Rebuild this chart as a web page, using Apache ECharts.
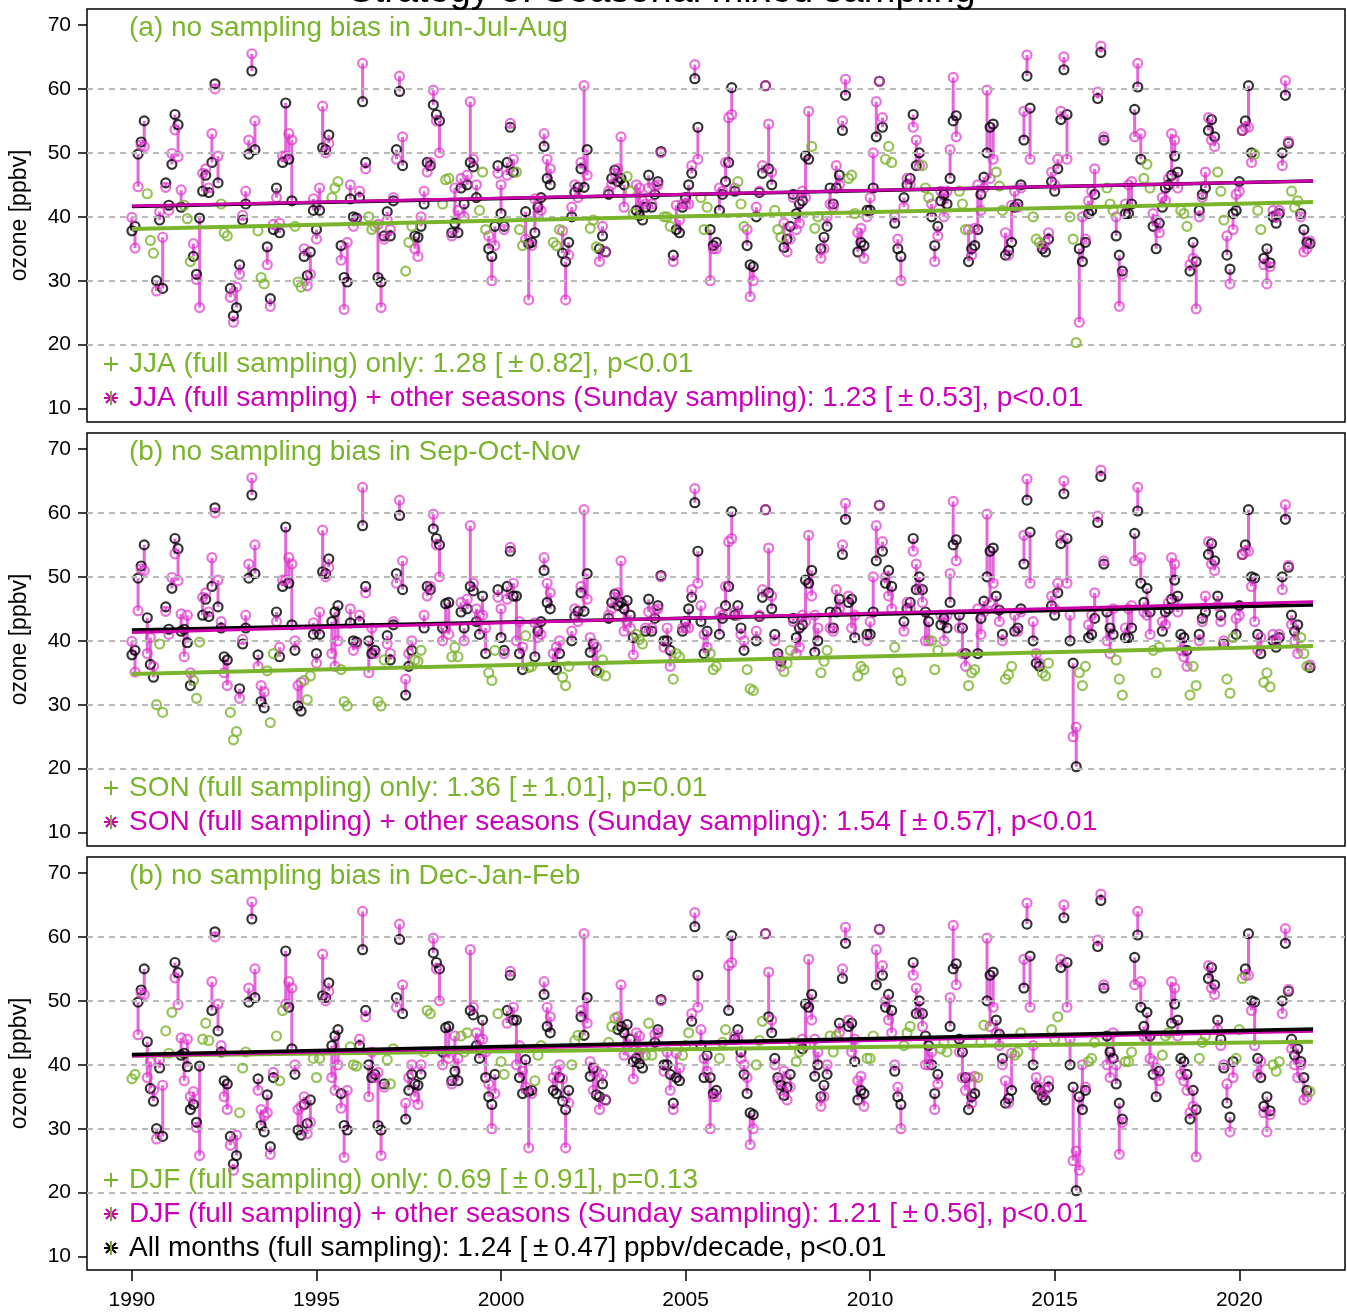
<!DOCTYPE html>
<html><head><meta charset="utf-8">
<script src="https://cdn.jsdelivr.net/npm/echarts@6/dist/echarts.min.js"></script>
<style>html,body{margin:0;padding:0;background:#fff}#c{width:1347px;height:1312px}</style>
</head><body><div id="c"></div>
<script>
// ---------- DATA (monthly means, ppbv) ----------
const startYear = 1990;
// full sampling (all days), Jan..Dec per year
const fullRows = [
 [37.8,38.5,49.8,51.7,55.0,43.6,36.3,34.3,30.0,39.5,28.8,45.3],
 [41.8,48.2,56.0,54.4,41.5,41.8,39.7,33.0,33.8,31.0,39.8,44.0],
 [46.5,43.8,48.5,60.8,45.3,42.0,37.5,37.0,28.8,24.5,25.8,32.5],
 [39.5,42.0,49.8,62.8,50.5,37.8,30.5,29.5,35.3,27.2,38.0,44.5],
 [37.5,48.5,57.8,49.0,42.5,38.5,29.8,29.0,33.8,30.8,34.5,41.0],
 [38.0,41.0,50.8,50.5,52.8,43.0,44.5,45.5,35.5,30.5,29.8,42.8],
 [40.0,39.8,43.0,58.0,48.5,40.0,38.0,38.5,30.5,29.8,37.0,40.8],
 [37.0,42.5,50.5,59.6,48.0,31.5,36.0,38.5,37.0,36.8,38.5,42.0],
 [48.5,48.0,57.5,56.0,55.0,42.0,45.8,46.0,37.5,39.0,37.5,44.5],
 [42.0,45.0,48.5,47.8,43.0,41.0,47.0,38.0,35.0,33.8,38.5,48.0],
 [40.5,38.5,48.5,54.0,47.0,47.0,38.0,35.5,40.8,35.8,36.0,37.5],
 [41.5,43.0,51.0,46.0,45.0,36.0,35.5,38.0,34.3,33.0,36.0,40.0],
 [43.8,44.6,47.5,44.6,50.5,38.2,39.5,35.3,35.0,37.0,34.5,43.5],
 [46.0,47.3,45.5,46.0,45.0,46.3,44.0,40.5,41.0,40.2,39.5,41.5],
 [46.5,41.5,43.5,45.5,50.2,40.0,40.0,38.5,34.0,38.0,37.5,41.5],
 [43.0,45.0,46.8,61.6,54.0,43.0,38.0,41.5,38.0,35.5,36.0,41.0],
 [43.5,45.5,48.5,60.2,44.0,45.5,42.0,38.5,35.5,32.5,32.2,40.0],
 [43.8,46.8,60.5,47.5,45.0,41.0,38.0,36.8,35.2,36.5,38.5,43.5],
 [40.5,42.0,42.5,49.5,49.0,51.0,38.2,40.0,35.0,36.8,38.5,44.5],
 [42.0,44.5,46.5,53.5,59.0,46.0,46.5,40.5,34.5,36.0,35.5,41.0],
 [41.0,44.5,52.5,61.2,54.0,49.0,51.0,48.5,39.0,35.0,33.8,43.0],
 [45.0,46.0,56.0,48.0,50.0,48.0,44.5,43.0,40.0,35.5,38.5,42.5],
 [43.5,42.0,46.0,55.0,55.8,44.0,42.0,38.0,33.0,35.0,35.5,38.0],
 [43.5,46.2,50.0,54.0,54.5,47.0,44.8,41.0,34.0,34.7,36.0,41.5],
 [42.0,45.0,52.0,62.0,57.0,40.0,36.5,36.0,35.0,34.5,36.5,45.5],
 [44.0,47.5,55.2,63.0,56.0,40.0,36.5,20.3,35.0,33.0,36.0,40.5],
 [41.0,43.5,58.5,65.7,52.0,44.5,42.0,41.0,37.0,34.0,31.5,40.5],
 [40.5,42.0,56.8,60.3,49.0,46.0,48.2,44.5,38.5,35.0,39.0,41.5],
 [44.5,45.0,46.5,49.5,47.0,41.0,40.5,38.5,31.5,36.0,33.0,41.0],
 [43.5,44.5,53.5,55.2,52.5,47.0,44.0,39.5,34.0,31.8,40.5,41.0],
 [45.5,53.5,55.0,60.5,50.0,49.8,41.0,38.0,33.5,35.0,32.8,40.0],
 [39.0,40.5,50.0,59.0,51.5,44.0,41.5,42.5,40.5,38.0,36.0,35.8]
];
// Sunday-only sampling, Jan..Dec per year
const sundayRows = [
 [39.9,35.1,44.7,51.2,51.0,38.0,40.5,36.0,28.4,40.8,36.8,44.6],
 [41.0,49.9,53.6,49.4,44.2,37.5,44.0,35.0,35.8,30.2,25.8,46.8],
 [47.5,44.5,53.0,60.0,49.5,43.0,35.0,33.0,27.4,23.5,29.0,31.0],
 [40.2,44.0,52.0,65.5,55.0,36.0,33.0,32.0,32.5,26.0,38.8,43.0],
 [39.0,49.5,49.5,53.0,52.0,40.0,33.0,33.5,35.0,29.2,31.0,42.8],
 [36.5,44.5,57.3,50.0,51.5,38.0,36.0,40.0,33.2,25.5,36.0,45.0],
 [38.5,39.5,44.0,64.0,47.5,35.0,42.0,38.0,38.8,25.8,36.5,39.5],
 [38.0,43.0,49.0,62.0,52.5,34.0,38.0,40.0,35.0,33.8,40.0,44.0],
 [47.0,48.5,59.8,55.0,50.0,40.0,42.0,41.0,37.0,44.5,41.0,46.0],
 [40.0,46.5,58.0,49.0,45.0,44.0,44.0,42.0,37.0,30.0,35.5,46.8],
 [45.0,38.0,46.5,54.6,49.0,40.0,43.0,39.0,36.5,27.0,35.5,42.8],
 [40.5,41.0,53.0,49.0,47.5,38.0,39.0,40.0,37.8,27.0,34.0,41.5],
 [45.0,43.0,48.5,60.5,46.5,40.5,36.0,39.0,33.0,38.5,34.5,44.0],
 [45.0,46.8,47.5,52.5,41.5,43.0,42.0,37.8,45.0,44.5,42.5,42.0],
 [44.5,42.0,44.8,45.0,50.0,39.0,42.0,36.0,33.0,41.8,39.5,42.0],
 [42.0,42.0,48.0,63.8,49.0,45.5,41.0,39.0,30.0,35.0,35.0,44.5],
 [44.0,48.5,55.5,56.0,44.5,44.0,41.0,40.0,38.0,27.5,30.0,41.5],
 [44.0,48.0,60.5,54.5,47.0,40.0,37.5,36.0,39.0,34.5,36.5,43.0],
 [38.0,39.0,44.0,43.0,56.5,47.0,44.0,42.0,33.5,35.0,40.0,42.0],
 [41.5,48.0,45.0,55.0,61.5,47.0,42.0,44.0,37.5,38.2,33.5,40.0],
 [43.0,50.0,58.0,61.2,55.5,50.0,47.0,45.0,40.0,36.5,30.0,41.5],
 [46.0,45.0,54.0,52.0,48.0,46.0,40.0,40.0,42.0,33.0,37.0,44.0],
 [40.0,44.0,50.5,61.8,52.5,42.0,38.0,36.0,38.0,34.0,38.2,45.0],
 [41.0,44.5,59.8,46.0,49.0,45.0,43.0,40.0,37.5,34.0,41.8,44.0],
 [41.5,44.5,56.5,65.3,49.0,43.0,38.0,36.5,35.5,36.0,37.5,47.0],
 [45.0,49.0,56.5,65.0,49.0,44.0,25.0,26.5,23.5,40.0,36.5,42.5],
 [44.0,47.5,59.5,66.7,52.5,40.0,38.0,45.0,40.0,26.0,31.0,42.0],
 [45.0,45.5,52.5,64.0,53.0,44.5,44.0,41.0,40.5,39.5,37.5,43.0],
 [42.5,46.0,53.0,52.0,44.5,38.5,37.5,36.0,32.5,33.5,25.6,40.0],
 [43.0,47.0,55.5,52.0,51.0,45.5,43.0,40.0,37.0,29.5,38.0,43.5],
 [44.0,53.5,54.0,54.0,48.5,43.0,38.5,40.5,32.5,29.5,32.2,41.0],
 [40.0,41.0,48.0,61.3,51.8,42.5,40.0,38.0,40.0,34.5,35.0,36.2]
];
// months (0=Jan) with full sampling in each panel
const seasonMonths = [[5,6,7],[8,9,10],[11,0,1]];
const panelTitles = ["(a) no sampling bias in Jun-Jul-Aug","(b) no sampling bias in Sep-Oct-Nov","(b) no sampling bias in Dec-Jan-Feb"];
const seasonLabel = ["JJA","SON","DJF"];
const seasonOnlyStats = ["1.28 [\u2009\u00b1\u20090.82], p<0.01","1.36 [\u2009\u00b1\u20091.01], p=0.01","0.69 [\u2009\u00b1\u20090.91], p=0.13"];
const mixedStats = ["1.23 [\u2009\u00b1\u20090.53], p<0.01","1.54 [\u2009\u00b1\u20090.57], p<0.01","1.21 [\u2009\u00b1\u20090.56], p<0.01"];
const allStats = "1.24 [\u2009\u00b1\u20090.47] ppbv/decade, p<0.01";
// trend lines (start 1990, end 2022)
const trendX = [1990, 2022];
const trendAll = [[41.6,45.6],[41.7,45.6],[41.6,45.6]];
const trendMixed = [[41.7,45.6],[41.3,46.1],[41.4,45.3]];
const trendSeason = [[38.1,42.3],[34.8,39.2],[41.4,43.6]];
const yTicks = [10,20,30,40,50,60,70];
const gridVals = [20,30,40,50,60];
const xTicks = [1990,1995,2000,2005,2010,2015,2020];

// ---------- STYLE ----------
const FONT = "Liberation Sans, Arial, sans-serif";
const GREEN = "#7ab42c", MAG_TXT = "#cc00b8", MAG_PT = "rgba(220,50,202,0.85)", MAG_SEG = "rgba(222,62,210,0.8)", MAG_TREND = "#cc00aa";
const X_MIN = 1988.783, X_MAX = 2022.865, Y_MIN = 7.9, Y_MAX = 72.5;
const gridTops = [9, 433, 857];
const GRID_H = 413;

const full = fullRows.flat();
const sunday = sundayRows.flat();

const grids = [], xAxes = [], yAxes = [], series = [], graphics = [];
for (let p = 0; p < 3; p++) {
  grids.push({left: 85, top: gridTops[p], width: 1260, height: GRID_H, show: true, borderColor: '#000', borderWidth: 1.5, backgroundColor: 'transparent'});
  const bottom = p === 2;
  xAxes.push({type: 'value', gridIndex: p, min: X_MIN, max: X_MAX, axisLine: {show: false}, splitLine: {show: false},
    axisTick: {show: bottom, customValues: xTicks, length: 11, lineStyle: {color: '#000', width: 1.5}},
    axisLabel: {show: bottom, customValues: xTicks, fontSize: 21, color: '#000', fontFamily: FONT, margin: 20,
      formatter: v => String(Math.round(v))}});
  yAxes.push({type: 'value', gridIndex: p, min: Y_MIN, max: Y_MAX, axisLine: {show: false}, splitLine: {show: false},
    axisTick: {show: true, customValues: yTicks, length: 9, lineStyle: {color: '#000', width: 1.5}},
    axisLabel: {customValues: yTicks, fontSize: 21, color: '#000', fontFamily: FONT, margin: 16,
      formatter: v => String(Math.round(v))},
    name: 'ozone [ppbv]', nameLocation: 'middle', nameGap: 56, nameRotate: 90,
    nameTextStyle: {fontSize: 23, color: '#000', fontFamily: FONT}});

  const season = seasonMonths[p];
  const seg = [], mag = [], blk = [], grn = [];
  for (let i = 0; i < full.length; i++) {
    const x = startYear + Math.floor(i / 12) + (i % 12) / 12;
    if (season.includes(i % 12)) {
      // full sampling in this season: black, magenta and green coincide; green drawn
      grn.push([x, full[i]]);
    } else {
      blk.push([x, full[i]]);
      mag.push([x, sunday[i]]);
      seg.push([x, full[i], sunday[i]]);
    }
  }
  // gridlines
  series.push({type: 'line', xAxisIndex: p, yAxisIndex: p, data: [], z: 1, silent: true,
    markLine: {silent: true, symbol: 'none', label: {show: false}, animation: false,
      lineStyle: {type: [6, 5], color: '#b8b8b8', width: 2}, data: gridVals.map(v => ({yAxis: v}))}});
  series.push({type: 'custom', xAxisIndex: p, yAxisIndex: p, data: seg, z: 2, silent: true,
    encode: {x: 0, y: [1, 2]},
    renderItem: (params, api) => {
      const a = api.coord([api.value(0), api.value(1)]);
      const b = api.coord([api.value(0), api.value(2)]);
      return {type: 'line', shape: {x1: a[0], y1: a[1], x2: b[0], y2: b[1]}, style: {stroke: MAG_SEG, lineWidth: 3}};
    }});
  const sc = (data, col, z) => ({type: 'scatter', xAxisIndex: p, yAxisIndex: p, data, z, silent: true, symbol: 'circle', symbolSize: 9,
    itemStyle: {color: 'rgba(0,0,0,0)', borderColor: col, borderWidth: 2.2}});
  series.push(sc(blk, '#000', 3));
  series.push(sc(mag, MAG_PT, 4));
  series.push(sc(grn, GREEN, 5));
  const tl = (vals, col, w, z) => ({type: 'line', xAxisIndex: p, yAxisIndex: p, z, silent: true, showSymbol: false,
    data: [[trendX[0], vals[0]], [trendX[1], vals[1]]], lineStyle: {color: col, width: w}});
  if (p === 2) {
    series.push(tl(trendSeason[p], GREEN, 4, 6));
    series.push(tl(trendMixed[p], MAG_TREND, 3.5, 7));
    series.push(tl(trendAll[p], '#000', 3.5, 8));
  } else {
    series.push(tl(trendSeason[p], GREEN, 4, 6));
    series.push(tl(trendAll[p], '#000', 3.5, 7));
    series.push(tl(trendMixed[p], MAG_TREND, 3, 8));
  }

  // texts
  const top = gridTops[p];
  graphics.push({type: 'text', x: 129, y: top + 19, z: 100, silent: true,
    style: {text: panelTitles[p], fill: GREEN, font: '28px ' + FONT, verticalAlign: 'middle'}});
  const rows = [[seasonLabel[p] + ' (full sampling) only: ' + seasonOnlyStats[p], GREEN, 'plus'],
                [seasonLabel[p] + ' (full sampling) + other seasons (Sunday sampling): ' + mixedStats[p], MAG_TXT, 'star']];
  if (p === 2) rows.push(['All months (full sampling): ' + allStats, '#000', 'starblack']);
  const rowY = p === 2 ? [323, 357, 391] : [355, 389];
  rows.forEach((r, k) => {
    const cy = top + rowY[k];
    graphics.push({type: 'text', x: 129, y: cy, z: 100, silent: true,
      style: {text: r[0], fill: r[1], font: '28px ' + FONT, verticalAlign: 'middle'}});
    const sx = 111, h = 7;
    const ln = (x1, y1, x2, y2, c) => graphics.push({type: 'line', z: 100, silent: true,
      shape: {x1, y1, x2, y2}, style: {stroke: c, lineWidth: 2}});
    if (r[2] === 'plus') {
      ln(sx - h, cy, sx + h, cy, GREEN); ln(sx, cy - h, sx, cy + h, GREEN);
    } else {
      const c = r[2] === 'star' ? MAG_TXT : '#000';
      const d = h * 0.72;
      ln(sx - d, cy - d, sx + d, cy + d, c); ln(sx - d, cy + d, sx + d, cy - d, c);
      ln(sx - h, cy, sx + h, cy, c); ln(sx, cy - h, sx, cy + h, GREEN);
    }
  });
}
// main title (mostly cut off at the top edge)
graphics.push({type: 'text', x: 662, y: 11, z: 100, silent: true,
  style: {text: 'Strategy 5: Seasonal mixed sampling', fill: '#000', font: '38px ' + FONT, align: 'center', verticalAlign: 'bottom'}});

const chart = echarts.init(document.getElementById('c'), null, {renderer: 'canvas'});
chart.setOption({animation: false, backgroundColor: '#fff', grid: grids, xAxis: xAxes, yAxis: yAxes, series, graphic: graphics});
</script></body></html>
